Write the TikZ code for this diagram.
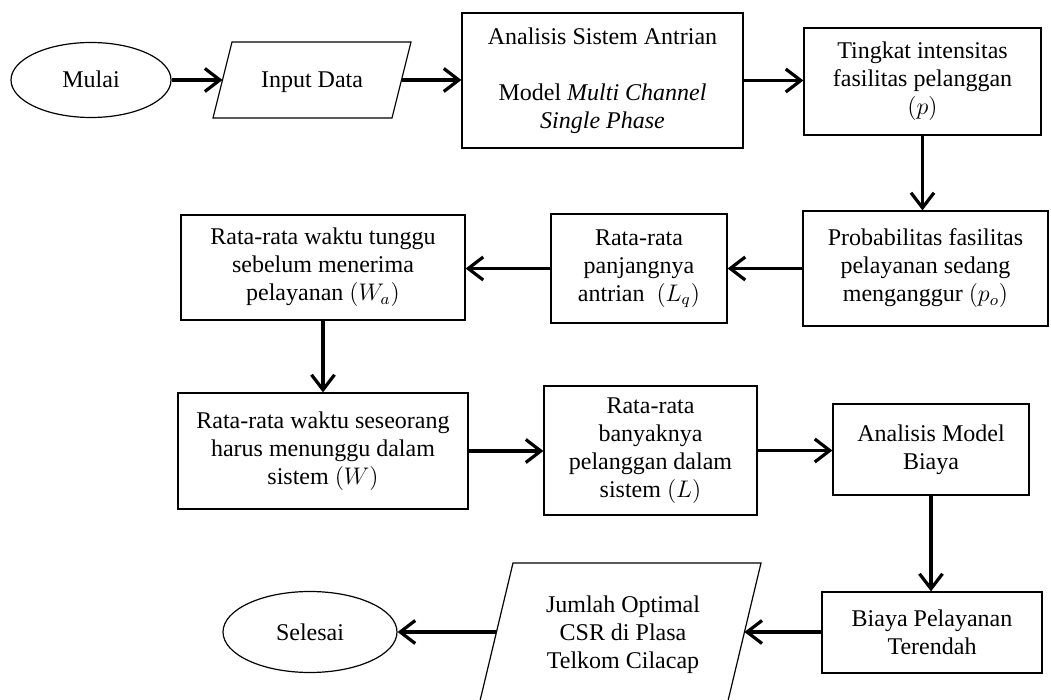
\documentclass[tikz,border=0pt]{standalone}
\usepackage{fontspec}
\setmainfont{Liberation Serif}
\usetikzlibrary{arrows.meta,shapes.geometric}
\begin{document}
\begin{tikzpicture}[x=0.5pt,y=-0.5pt,
  every node/.style={font=\fontsize{12}{14}\selectfont, align=center, inner sep=0pt},
  box/.style={draw, line width=0.6pt, rectangle},
  oval/.style={draw, line width=0.6pt, ellipse},
  para/.style={draw, line width=0.6pt},
  single/.style={text height=8pt, text depth=0pt},
  arr/.style={line width=1.6pt, -{Straight Barb[length=7.5pt,width=11.5pt,line width=1.6pt]}}]
\useasboundingbox (0,0) rectangle (1051,700);

% row 1
\node[oval, single, minimum width=80pt, minimum height=37.5pt] (mulai) at (91,80) {Mulai};
\draw[para] (232,42) -- (411,42) -- (392,118) -- (213,118) -- cycle;
\node[single] (input) at (312,80) {Input Data};
\coordinate (inL) at (222.5,80);
\coordinate (inR) at (401.5,80);
\node[box, minimum width=140.5pt, minimum height=67.5pt] (analisis) at (602.5,80.5)
  {Analisis Sistem Antrian\\[14pt] Model \textit{Multi Channel}\\ \textit{Single Phase}};
\node[box, minimum width=118.5pt, minimum height=53.5pt] (tingkat) at (922.5,81.5)
  {Tingkat intensitas\\ fasilitas pelanggan\\ $(p)$};

% row 2
\node[box, minimum width=122.5pt, minimum height=57.5pt] (prob) at (925.5,268.5)
  {Probabilitas fasilitas\\ pelayanan sedang\\ menganggur $(p_o)$};
\node[box, minimum width=88pt, minimum height=54.5pt] (lq) at (639,268.5)
  {Rata-rata\\ panjangnya\\ antrian~~$(L_q)$};
\node[box, minimum width=142pt, minimum height=52.5pt] (wa) at (323,267.5)
  {Rata-rata waktu tunggu\\ sebelum menerima\\ pelayanan $\bigl(W_a\bigr)$};

% row 3
\node[box, minimum width=145pt, minimum height=58pt] (w) at (323,451)
  {Rata-rata waktu seseorang\\ harus menunggu dalam\\ sistem $(W)$};
\node[box, minimum width=106.5pt, minimum height=64.5pt] (l) at (650.5,450.5)
  {Rata-rata\\ banyaknya\\ pelanggan dalam\\ sistem $(L)$};
\node[box, minimum width=98pt, minimum height=45.5pt] (amb) at (931,449.5)
  {Analisis Model\\ Biaya};

% row 4
\node[box, minimum width=110pt, minimum height=40.5pt] (biaya) at (932,632.5)
  {Biaya Pelayanan\\ Terendah};
\draw[para] (513,563) -- (761,563) -- (727,705) -- (479,705) -- cycle;
\node (jumlah) at (623,635) {Jumlah Optimal\\ CSR di Plasa\\ Telkom Cilacap};
\coordinate (jR) at (744.4,632);
\coordinate (jL) at (496.4,632);
\node[oval, single, minimum width=87pt, minimum height=40.5pt] (selesai) at (310,632) {Selesai};

% connectors
\draw[arr] (mulai) -- (inL);
\draw[arr] (inR) -- (analisis.west |- inR);
\draw[arr] (analisis.east) -- (analisis.east -| tingkat.west);
\draw[arr] (tingkat.south) -- (tingkat.south |- prob.north);
\draw[arr] (prob.west) -- (prob.west -| lq.east);
\draw[arr] (lq.west) -- (lq.west -| wa.east);
\draw[arr] (wa.south) -- (wa.south |- w.north);
\draw[arr] (w.east) -- (w.east -| l.west);
\draw[arr] (l.east) -- (l.east -| amb.west);
\draw[arr] (amb.south) -- (amb.south |- biaya.north);
\draw[arr] (biaya.west |- jR) -- (jR);
\draw[arr] (jL) -- (selesai.east);
\end{tikzpicture}
\end{document}
